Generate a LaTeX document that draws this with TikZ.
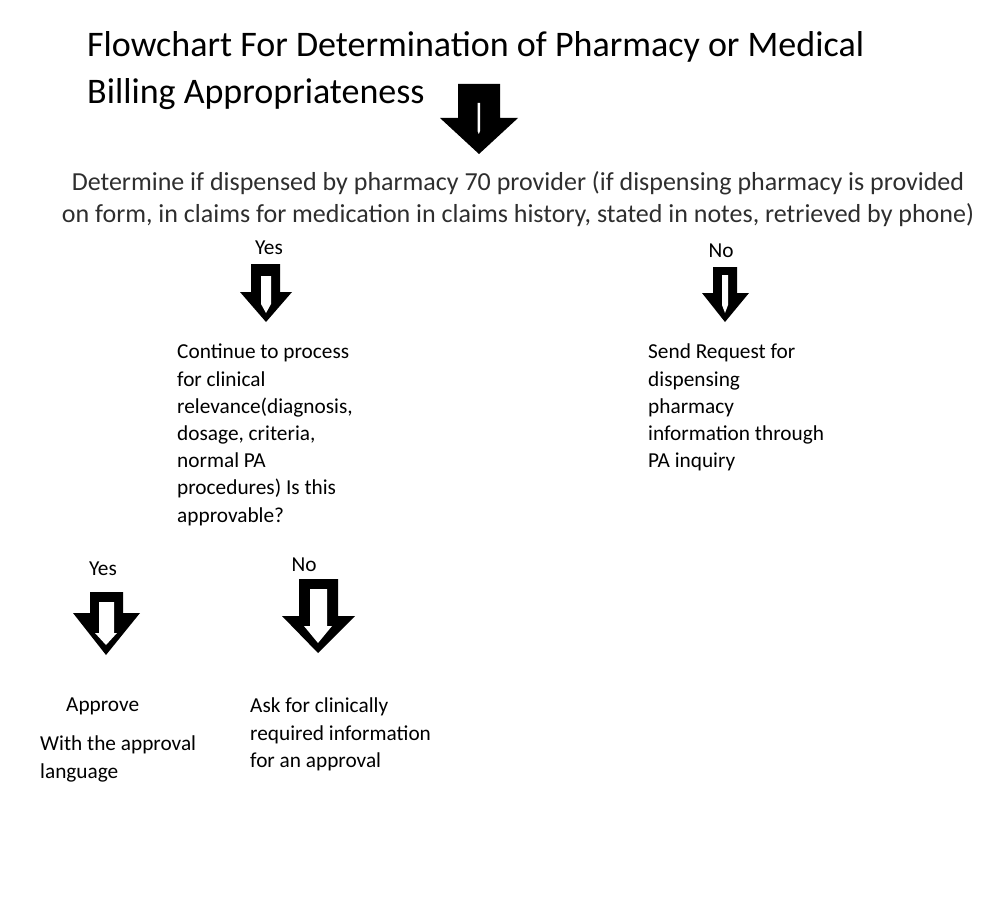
\documentclass[tikz,border=0pt]{standalone}
\usepackage{fontspec}
\setmainfont{Carlito}
\begin{document}
\begin{tikzpicture}[x=1pt,y=-1pt,
  txt/.style={inner sep=0pt,align=left,anchor=north west,font=\fontsize{21.3}{27.2}\selectfont},
  lbl/.style={inner sep=0pt,font=\fontsize{21.3}{27}\selectfont},
  arrout/.style={fill=black,draw=none},
  arrin/.style={fill=white,draw=none}]
\useasboundingbox (0,0) rectangle (1006,920);
% title
\node[inner sep=0pt,align=left,anchor=north west,font=\fontsize{36}{47.5}\selectfont] (title) at (87,31)
  {Flowchart For Determination of Pharmacy or Medical\\Billing Appropriateness};
% top arrow
\fill[arrout] (458,84) -- (500,84) -- (500,118) -- (518,118) -- (479,154) -- (440,118) -- (458,118) -- cycle;
\fill[arrin] (477.5,103) -- (480,103) -- (480,131) -- (478.8,134) -- (477.5,131) -- cycle;
% determine
\node[inner sep=0pt,align=center,anchor=north,text=black!82,font=\fontsize{26}{32}\selectfont] (det) at (518,171)
  {Determine if dispensed by pharmacy 70 provider (if dispensing pharmacy is provided\\on form, in claims for medication in claims history, stated in notes, retrieved by phone)};
% yes/no upper
\node[lbl] (yes1) at (269,248) {Yes};
\node[lbl] (no1) at (721,251) {No};
% arrow yes upper
\fill[arrout] (251,264) -- (280,264) -- (280,292) -- (292,292) -- (266,322) -- (240,292) -- (251,292) -- cycle;
\fill[arrin] (261,276) -- (271,276) -- (271,304) -- (266,313) -- (261,304) -- cycle;
% arrow no upper
\fill[arrout] (713,267) -- (737,267) -- (737,293) -- (749,293) -- (725,322) -- (702,293) -- (713,293) -- cycle;
\fill[arrin] (722,275) -- (728,275) -- (728,305) -- (725,313) -- (722,305) -- cycle;
% continue / send
\node[txt] (cont) at (177,344) {Continue to process\\for clinical\\relevance(diagnosis,\\dosage, criteria,\\normal PA\\procedures) Is this\\approvable?};
\node[txt] (send) at (648,344) {Send Request for\\dispensing\\pharmacy\\information through\\PA inquiry};
% yes/no lower
\node[lbl] (yes2) at (103,569) {Yes};
\node[lbl] (no2) at (304,565) {No};
% arrow yes lower
\fill[arrout] (90,592) -- (123,592) -- (123,613) -- (140,613) -- (106,655) -- (73,613) -- (90,613) -- cycle;
\fill[arrin] (99,602) -- (114,602) -- (114,633) -- (117,633) -- (106,645) -- (95,633) -- (99,633) -- cycle;
% arrow no lower
\fill[arrout] (299,579) -- (338,579) -- (338,616) -- (355,616) -- (318,653) -- (282,616) -- (299,616) -- cycle;
\fill[arrin] (310,589) -- (327,589) -- (327,626) -- (332,626) -- (318,643) -- (304,626) -- (310,626) -- cycle;
% bottom texts
\node[txt] (appr) at (66,698) {Approve};
\node[txt] (lang) at (40,736) {With the approval\\language};
\node[txt] (ask) at (250,698) {Ask for clinically\\required information\\for an approval};
\end{tikzpicture}
\end{document}
